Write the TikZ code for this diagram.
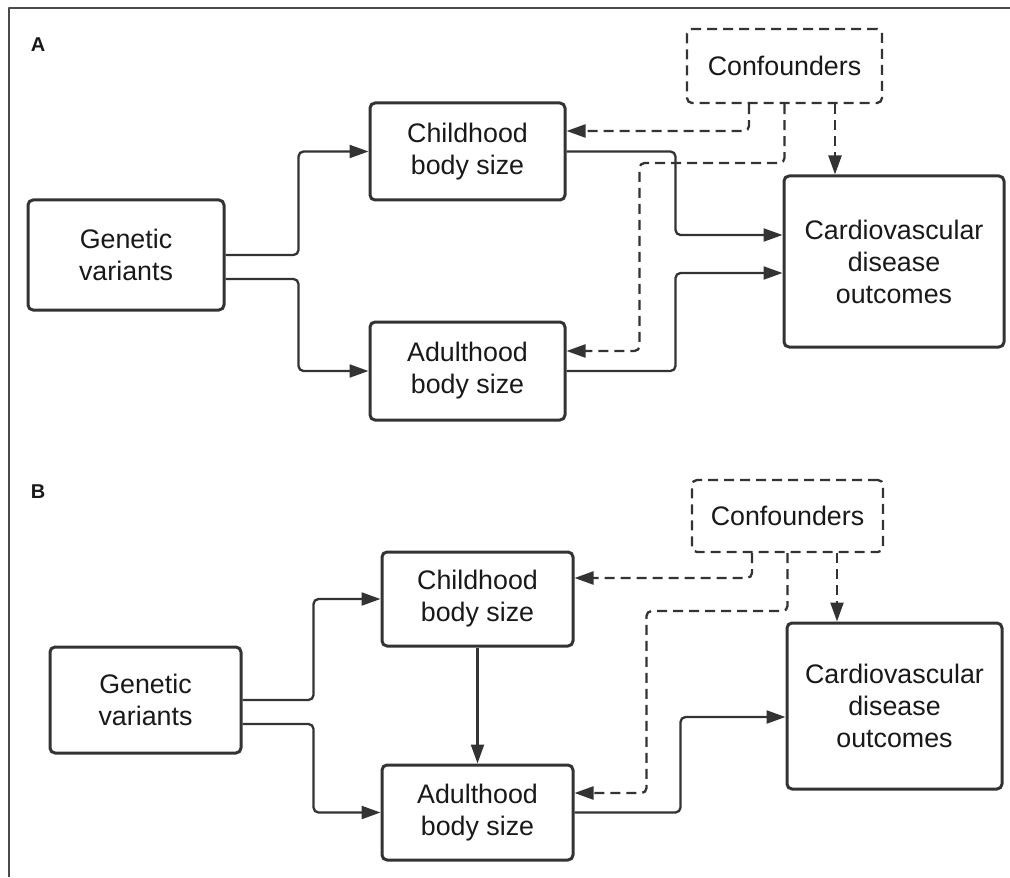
\documentclass[tikz,border=0pt]{standalone}
\usepackage{fontspec}
\setmainfont{Liberation Sans}
\usepackage{tikz}
\usetikzlibrary{arrows.meta,positioning,calc}
\definecolor{ink}{HTML}{333333}
\definecolor{rule}{HTML}{4A4A4A}

\begin{document}
\begin{tikzpicture}[
  x=0.5pt,y=-0.5pt,
  font=\fontsize{13.4}{16}\selectfont,
  line cap=butt,line join=round,
  box/.style={draw=ink,line width=1.5pt,rounded corners=2.5pt,align=center,
              inner sep=0pt,fill=white,text=black!90},
  confbox/.style={box,line width=1.15pt,dash pattern=on 5pt off 3pt},
  panel/.style={font=\fontsize{10}{11}\selectfont\bfseries,text=black!90},
  link/.style={-{Triangle[length=9.5pt,width=6.5pt]},line width=1.15pt,draw=ink,
               rounded corners=2.5pt},
  dlink/.style={link,dash pattern=on 5pt off 3pt}
]
\useasboundingbox (0,0) rectangle (1010,877);
\draw[rule,line width=1pt] (9,877) -- (9,8) -- (1010,8);

% panel A
\node[panel] (labA) at (38,45) {A};
\node[box,minimum width=98pt,minimum height=55pt] (genA) at (126,255) {Genetic\\variants};
\node[box,minimum width=97.5pt,minimum height=48.5pt] (childA) at (467.5,151.5) {Childhood\\body size};
\node[box,minimum width=97.5pt,minimum height=49pt] (adultA) at (467.5,371) {Adulthood\\body size};
\node[confbox,minimum width=97.5pt,minimum height=37pt] (confA) at (784.5,66) {Confounders};
\node[box,minimum width=110pt,minimum height=85.5pt] (cvdA) at (894,261.5) {Cardiovascular\\disease\\outcomes};

\draw[link] (genA.east) -- ++(73,0) |- (childA.west);
\draw[link] ($(genA.east)+(0,24)$) -- ++(73,0) |- (adultA.west);
\draw[link] (childA.east) -- ++(109,0) |- ($(cvdA.west)+(0,-26.5)$);
\draw[link] (adultA.east) -- ++(109,0) |- ($(cvdA.west)+(0,11.5)$);
\draw[dlink] ($(confA.south)+(-35.5,0)$) |- ($(childA.east)+(0,-20.5)$);
\draw[dlink] (confA.south) |- ($(childA.east)+(73,11.5)$) |- ($(adultA.east)+(0,-20)$);
\draw[dlink] ($(confA.south)+(50.5,0)$) coordinate (ta) -- (ta |- cvdA.north);

% panel B
\node[panel] (labB) at (38,492) {B};
\node[box,minimum width=95.5pt,minimum height=53pt] (genB) at (145.5,700) {Genetic\\variants};
\node[box,minimum width=95.5pt,minimum height=47pt] (childB) at (477.5,599) {Childhood\\body size};
\node[box,minimum width=95.5pt,minimum height=47.5pt] (adultB) at (477.5,812.5) {Adulthood\\body size};
\node[confbox,minimum width=95.5pt,minimum height=36pt] (confB) at (787.5,516) {Confounders};
\node[box,minimum width=107.5pt,minimum height=83pt] (cvdB) at (894.5,706) {Cardiovascular\\disease\\outcomes};

\draw[link] (genB.east) -- ++(71,0) |- (childB.west);
\draw[link] ($(genB.east)+(0,24)$) -- ++(71,0) |- (adultB.west);
\draw[link] (childB.south) -- (adultB.north);
\draw[link] (adultB.east) -- ++(106,0) |- ($(cvdB.west)+(0,11)$);
\draw[dlink] ($(confB.south)+(-35.5,0)$) |- ($(childB.east)+(0,-21)$);
\draw[dlink] (confB.south) |- ($(childB.east)+(72,12)$) |- ($(adultB.east)+(0,-19.5)$);
\draw[dlink] ($(confB.south)+(49.5,0)$) coordinate (tb) -- (tb |- cvdB.north);
\end{tikzpicture}
\end{document}
